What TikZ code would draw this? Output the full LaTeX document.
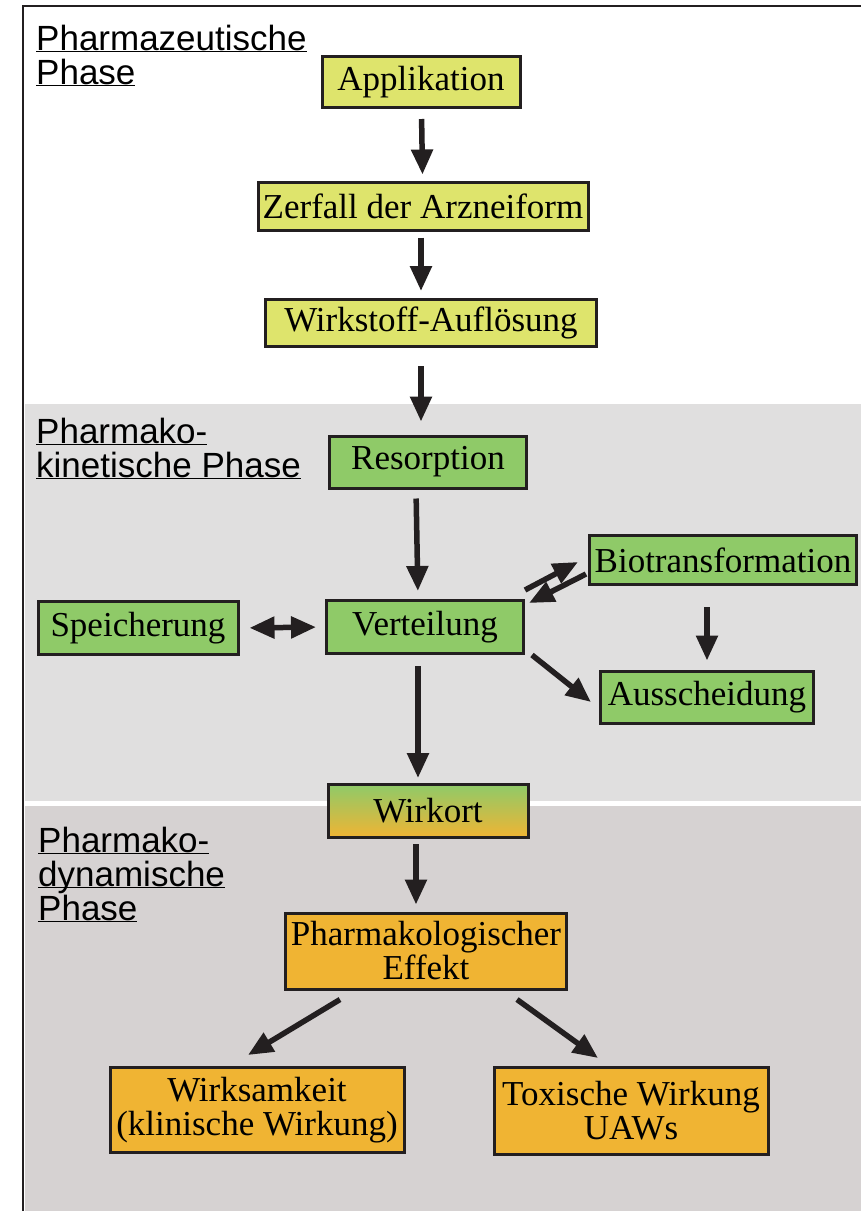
\documentclass[tikz,border=0pt]{standalone}
\usepackage{fontspec}
\setmainfont{Liberation Serif}
\setsansfont{Liberation Sans}
\usepackage{xcolor}
\definecolor{cLine}{HTML}{231F20}
\definecolor{cYellow}{HTML}{DEE46C}
\definecolor{cGreen}{HTML}{8FCA68}
\definecolor{cOrange}{HTML}{F0B433}
\definecolor{cMid}{HTML}{CFC53A}
\definecolor{cKin}{HTML}{E0DFDF}
\definecolor{cDyn}{HTML}{D6D2D2}
\usepackage{tikz}
\usetikzlibrary{positioning,arrows.meta}
\tikzset{
  node-box/.style={draw=cLine,line width=3pt,inner sep=0pt,align=center,
    font=\fontsize{35}{34}\selectfont},
  node-pharm/.style={fill=cYellow},
  node-kin/.style={fill=cGreen},
  node-dyn/.style={fill=cOrange},
  node-ort/.style={top color=cGreen,middle color=cMid,bottom color=cOrange},
  phase-label/.style={anchor=north west,inner sep=0pt,align=left,
    font=\sffamily\fontsize{35}{34}\selectfont},
  arrow/.style={-{Triangle[length=25pt,width=21pt]},line width=5.5pt,draw=cLine},
  arrow-both/.style={{Triangle[length=25pt,width=21pt]}-{Triangle[length=25pt,width=21pt]},
    line width=5.5pt,draw=cLine},
}
\newcommand{\phaseline}[1]{\underline{\smash{#1}}}

\begin{document}
\begin{tikzpicture}[x=1pt,y=-1pt]
  \useasboundingbox (0,0) rectangle (861,1211);
  % Hintergrund der Phasen
  \fill[cKin] (25,404) rectangle (861,801);
  \fill[cDyn] (25,806) rectangle (861,1211);
  \draw[cLine,line width=2.5pt] (23,1211) -- (23,6) -- (861,6);

  \node[phase-label] (lab-pharm) at (36,50)
    {\phaseline{Pharmazeutische}\\\phaseline{Phase}};
  \node[phase-label] (lab-kin) at (36,443)
    {\phaseline{Pharmako-}\\\phaseline{kinetische Phase}};
  \node[phase-label] (lab-dyn) at (38,852)
    {\phaseline{Pharmako-}\\\phaseline{dynamische}\\\phaseline{Phase}};

  \node[node-box,node-pharm,minimum width=198pt,minimum height=51pt] (app)  at (421,82)  {Applikation};
  \node[node-box,node-pharm,minimum width=330pt,minimum height=48pt] (zer)  at (423,206) {Zerfall der Arzneiform};
  \node[node-box,node-pharm,minimum width=331pt,minimum height=47pt] (aufl) at (431,323) {Wirkstoff-Auflösung};
  \node[node-box,node-kin,minimum width=197pt,minimum height=52pt]   (res)  at (428,462) {Resorption};
  \node[node-box,node-kin,minimum width=197pt,minimum height=53pt]   (vert) at (425,627) {Verteilung};
  \node[node-box,node-kin,minimum width=200pt,minimum height=53pt]   (spei) at (138,628) {Speicherung};
  \node[node-box,node-kin,minimum width=267pt,minimum height=49pt]   (bio)  at (723,560) {Biotransformation};
  \node[node-box,node-kin,minimum width=213pt,minimum height=52pt]   (aus)  at (707,697) {Ausscheidung};
  \node[node-box,node-ort,minimum width=200pt,minimum height=53pt]   (ort)  at (428,811) {Wirkort};
  \node[node-box,node-dyn,minimum width=281pt,minimum height=76pt]   (eff)  at (426,951) {Pharmakologischer\\Effekt};
  \node[node-box,node-dyn,minimum width=294pt,minimum height=85pt]   (wsam) at (257,1110) {Wirksamkeit\\(klinische Wirkung)};
  \node[node-box,node-dyn,minimum width=274pt,minimum height=87pt]   (tox)  at (631,1111) {Toxische Wirkung\\UAWs};

  \draw[arrow,shorten <=10pt,shorten >=6pt] (app) -- (zer);
  \draw[arrow,shorten <=6pt,shorten >=7pt] ([xshift=-2pt]zer.south) -- ([xshift=-10pt]aufl.north);
  \draw[arrow,shorten <=18pt,shorten >=13pt] ([xshift=-10pt]aufl.south) -- ([xshift=-7pt]res.north);
  \draw[arrow,shorten <=9pt,shorten >=8pt] ([xshift=-12pt]res.south) -- ([xshift=-7pt]vert.north);
  \draw[arrow-both,shorten <=10pt,shorten >=9pt] (spei.east) -- (vert.west);
  \draw[arrow] ([yshift=9pt]vert.north east) -- ([xshift=-10pt,yshift=-2pt]bio.west);
  \draw[arrow] ([xshift=-2pt,yshift=12pt]bio.south west) -- ([xshift=4pt,yshift=-4pt]vert.north east);
  \draw[arrow,shorten <=21pt,shorten >=9pt] (aus.north |- bio.south) -- (aus.north);
  \draw[arrow] ([xshift=7pt]vert.south east) -- ([xshift=-8pt,yshift=-5pt]aus.west);
  \draw[arrow,shorten <=11pt,shorten >=5pt] ([xshift=-7pt]vert.south) -- ([xshift=-10pt]ort.north);
  \draw[arrow,shorten <=5pt,shorten >=7pt] ([xshift=-12pt]ort.south) -- ([xshift=-10pt]eff.north);
  \draw[arrow] ([xshift=-86pt,yshift=-9pt]eff.south) -- ([xshift=-9pt,yshift=11pt]wsam.north);
  \draw[arrow] ([xshift=91pt,yshift=-9pt]eff.south) -- ([xshift=-33pt,yshift=8pt]tox.north);
\end{tikzpicture}
\end{document}
